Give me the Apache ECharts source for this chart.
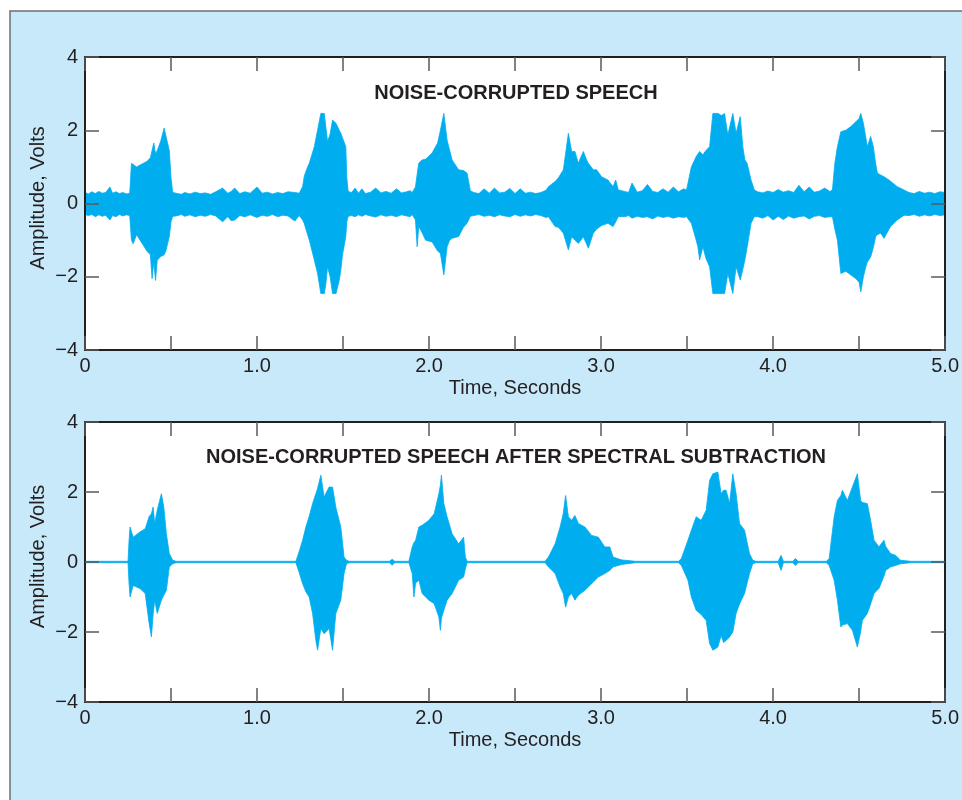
<!DOCTYPE html>
<html>
<head>
<meta charset="utf-8">
<title>Noise-corrupted speech</title>
<script src="https://cdn.jsdelivr.net/npm/echarts@6/dist/echarts.min.js"></script>
<style>
  html, body { margin: 0; padding: 0; background: #fff; }
  #chart { width: 962px; height: 800px; }
</style>
</head>
<body>
<div id="chart"></div>
<script>
// envelope of the waveform (seconds / volts)
const topT = [
  0.00, 0.02, 0.04, 0.06, 0.08, 0.10, 0.12, 0.145, 0.16, 0.18, 0.20, 0.22, 0.24, 0.26,
  0.27, 0.28, 0.30, 0.32, 0.34, 0.36, 0.38, 0.39, 0.40, 0.41, 0.42, 0.44, 0.46, 0.47, 0.49, 0.50, 0.51,
  0.53, 0.56, 0.58, 0.61, 0.64, 0.67, 0.70, 0.73, 0.76, 0.80, 0.83, 0.85, 0.87, 0.90, 0.93, 0.96,
  1.00, 1.03, 1.06, 1.09, 1.12, 1.15, 1.18, 1.22, 1.245,
  1.255, 1.265, 1.275, 1.294, 1.304, 1.333, 1.352, 1.371, 1.391, 1.40, 1.41, 1.425, 1.439, 1.459,
  1.478, 1.487, 1.497, 1.516, 1.522, 1.53,
  1.55, 1.57, 1.59, 1.61, 1.63, 1.66, 1.69, 1.72, 1.75, 1.78, 1.81, 1.84, 1.87, 1.89,
  1.902, 1.921, 1.931, 1.940, 1.96, 1.98, 2.018, 2.05, 2.066, 2.086, 2.105, 2.12, 2.134, 2.172,
  2.20, 2.221, 2.240,
  2.26, 2.29, 2.32, 2.35, 2.38, 2.41, 2.44, 2.47, 2.50, 2.53, 2.56, 2.59, 2.62, 2.65, 2.68,
  2.694, 2.733, 2.752, 2.781, 2.81, 2.829, 2.848, 2.868, 2.897, 2.915, 2.926, 2.955, 2.974, 3.003,
  3.04, 3.07, 3.085, 3.10, 3.137,
  3.16, 3.18, 3.21, 3.24, 3.27, 3.30, 3.33, 3.36, 3.39, 3.42, 3.45, 3.48,
  3.497, 3.525, 3.553, 3.563, 3.573, 3.592, 3.61, 3.631, 3.650, 3.68, 3.70, 3.718, 3.737, 3.766,
  3.785, 3.809, 3.824, 3.836, 3.849, 3.872, 3.891,
  3.91, 3.94, 3.97, 4.00, 4.03, 4.06, 4.09, 4.12, 4.15, 4.18, 4.21, 4.24, 4.27, 4.30, 4.33,
  4.345, 4.359, 4.374, 4.394, 4.423, 4.452, 4.481, 4.50, 4.51, 4.525, 4.539, 4.548, 4.567, 4.583,
  4.596, 4.606, 4.625, 4.645, 4.654, 4.674, 4.683, 4.722, 4.761,
  4.79, 4.82, 4.85, 4.88, 4.91, 4.94, 4.97, 5.00
];
const topHi = [
  0.30, 0.26, 0.32, 0.27, 0.33, 0.28, 0.30, 0.45, 0.28, 0.32, 0.27, 0.30, 0.26, 0.28,
  1.10, 1.05, 1.00, 1.05, 1.10, 1.15, 1.25, 1.30, 1.65, 1.35, 1.45, 1.70, 2.06, 1.85, 1.45, 0.70, 0.30,
  0.28, 0.25, 0.30, 0.26, 0.31, 0.27, 0.29, 0.25, 0.32, 0.42, 0.28, 0.33, 0.42, 0.27, 0.32, 0.28,
  0.45, 0.28, 0.31, 0.26, 0.30, 0.27, 0.32, 0.30, 0.28,
  0.30, 0.46, 0.75, 1.00, 1.10, 1.55, 2.00, 2.46, 2.46, 2.46, 1.69, 1.90, 2.28, 2.19,
  2.00, 1.92, 1.92, 1.55, 0.70, 0.33,
  0.30, 0.42, 0.28, 0.40, 0.27, 0.31, 0.42, 0.29, 0.33, 0.28, 0.40, 0.29, 0.32, 0.35,
  0.30, 0.45, 0.80, 1.10, 1.19, 1.21, 1.38, 1.65, 2.00, 2.46, 1.73, 1.45, 1.19, 0.92,
  0.90, 0.83, 0.35,
  0.30, 0.27, 0.40, 0.28, 0.42, 0.29, 0.31, 0.41, 0.27, 0.40, 0.28, 0.31, 0.27, 0.30, 0.36,
  0.46, 0.60, 0.70, 0.92, 1.92, 1.42, 1.42, 1.10, 1.42, 1.20, 1.10, 0.92, 0.92, 0.73,
  0.64, 0.46, 0.64, 0.37, 0.33,
  0.30, 0.56, 0.31, 0.35, 0.52, 0.33, 0.30, 0.40, 0.31, 0.45, 0.32, 0.40,
  0.37, 1.00, 1.28, 1.35, 1.42, 1.33, 1.45, 1.55, 2.46, 2.46, 2.40, 2.46, 1.87, 2.46,
  1.92, 2.37, 1.55, 1.19, 1.10, 0.64, 0.37,
  0.32, 0.29, 0.34, 0.30, 0.38, 0.31, 0.35, 0.30, 0.50, 0.32, 0.45, 0.31, 0.34, 0.42, 0.33,
  0.37, 1.10, 1.55, 1.96, 2.00, 2.10, 2.23, 2.32, 2.46, 2.19, 1.80, 1.55, 1.83, 1.55,
  1.10, 0.83, 0.78, 0.73, 0.70, 0.64, 0.60, 0.46, 0.37,
  0.30, 0.27, 0.33, 0.28, 0.31, 0.27, 0.32, 0.30
];
const topLo = [
  -0.30, -0.33, -0.30, -0.36, -0.31, -0.35, -0.32, -0.45, -0.33, -0.36, -0.30, -0.34, -0.31, -0.33,
  -1.00, -1.10, -0.85, -1.00, -1.15, -1.30, -1.40, -2.05, -1.60, -2.10, -1.55, -1.45, -1.40, -1.30, -0.90, -0.50, -0.35,
  -0.34, -0.30, -0.35, -0.31, -0.36, -0.32, -0.35, -0.30, -0.34, -0.50, -0.36, -0.47, -0.45, -0.33, -0.36, -0.31,
  -0.38, -0.32, -0.35, -0.30, -0.36, -0.32, -0.34, -0.48, -0.33,
  -0.35, -0.45, -0.55, -0.85, -1.00, -1.54, -1.91, -2.46, -2.46, -2.20, -1.73, -2.00, -2.46, -2.46,
  -2.10, -1.82, -1.40, -0.90, -0.50, -0.35,
  -0.33, -0.36, -0.31, -0.35, -0.30, -0.34, -0.37, -0.31, -0.35, -0.32, -0.36, -0.31, -0.34, -0.36,
  -0.30, -0.45, -1.18, -0.63, -0.80, -1.00, -1.05, -1.30, -1.36, -1.95, -1.18, -1.00, -0.95, -0.90,
  -0.65, -0.54, -0.35,
  -0.33, -0.30, -0.35, -0.32, -0.36, -0.31, -0.34, -0.36, -0.30, -0.35, -0.31, -0.34, -0.30, -0.33, -0.38,
  -0.36, -0.63, -0.65, -0.81, -1.27, -0.91, -1.00, -1.09, -0.91, -1.10, -1.22, -0.81, -0.70, -0.60,
  -0.54, -0.63, -0.50, -0.36, -0.36,
  -0.33, -0.40, -0.35, -0.38, -0.36, -0.42, -0.34, -0.38, -0.35, -0.40, -0.36, -0.38,
  -0.36, -0.54, -1.00, -1.18, -1.54, -1.18, -1.50, -1.73, -2.46, -2.46, -2.46, -2.46, -1.91, -2.46,
  -1.73, -2.09, -1.80, -1.54, -1.20, -0.54, -0.36,
  -0.36, -0.40, -0.33, -0.45, -0.35, -0.44, -0.34, -0.40, -0.36, -0.34, -0.42, -0.35, -0.33, -0.38, -0.36,
  -0.36, -0.70, -1.00, -1.91, -1.85, -1.95, -2.05, -2.15, -2.41, -2.00, -1.73, -1.60, -1.46, -1.20,
  -0.91, -0.85, -0.81, -0.95, -1.00, -0.70, -0.63, -0.45, -0.32,
  -0.33, -0.30, -0.35, -0.31, -0.34, -0.30, -0.33, -0.31
];

const botT = [
  0.00, 0.25,
  0.256, 0.262, 0.28, 0.32, 0.35, 0.373, 0.386, 0.396, 0.405, 0.42, 0.444, 0.458, 0.473, 0.49, 0.51, 0.53,
  1.226, 1.245, 1.265, 1.284, 1.303, 1.323, 1.342, 1.352, 1.371, 1.39, 1.419, 1.439, 1.458, 1.487,
  1.506, 1.52, 1.536,
  1.77, 1.786, 1.80,
  1.883, 1.902, 1.912, 1.922, 1.941, 1.96, 1.999, 2.03, 2.057, 2.066, 2.072, 2.086, 2.105, 2.134,
  2.172, 2.201, 2.211, 2.221,
  2.49, 2.50, 2.51,
  2.675, 2.694, 2.733, 2.762, 2.78, 2.794, 2.81, 2.829, 2.848, 2.868, 2.906, 2.945, 2.984, 3.022,
  3.051, 3.07, 3.12, 3.2,
  3.45, 3.467, 3.505, 3.525, 3.553, 3.582, 3.611, 3.631, 3.65, 3.679, 3.698, 3.712, 3.727, 3.747,
  3.766, 3.785, 3.805, 3.834, 3.863, 3.882, 3.90,
  4.03, 4.046, 4.06, 4.115, 4.13, 4.145,
  4.31, 4.326, 4.355, 4.374, 4.394, 4.403, 4.432, 4.461, 4.49, 4.509, 4.519, 4.548, 4.567, 4.587,
  4.616, 4.625, 4.645, 4.654, 4.683, 4.712, 4.741, 4.80, 5.00
];
const botHi = [
  0.02, 0.02,
  0.60, 1.00, 0.71, 0.86, 0.95, 1.30, 1.38, 1.57, 1.10, 1.48, 1.95, 1.57, 0.81, 0.24, 0.05, 0.02,
  0.02, 0.30, 0.62, 1.00, 1.30, 1.67, 1.95, 2.10, 2.48, 1.86, 2.14, 2.14, 1.57, 1.00,
  0.14, 0.05, 0.02,
  0.02, 0.08, 0.02,
  0.02, 0.43, 0.55, 0.62, 1.00, 1.05, 1.19, 1.38, 1.95, 2.20, 2.48, 1.67, 1.29, 0.81,
  0.52, 0.71, 0.14, 0.02,
  0.02, 0.05, 0.02,
  0.02, 0.14, 0.52, 1.00, 1.38, 1.90, 1.29, 1.19, 1.33, 1.10, 1.00, 0.76, 0.71, 0.43,
  0.43, 0.14, 0.06, 0.02,
  0.02, 0.10, 0.62, 0.91, 1.29, 1.19, 1.48, 2.33, 2.52, 2.57, 1.95, 2.05, 2.05, 1.67,
  2.52, 1.95, 1.10, 0.91, 0.24, 0.05, 0.02,
  0.02, 0.19, 0.02, 0.02, 0.10, 0.02,
  0.02, 0.10, 1.29, 1.76, 1.90, 2.05, 1.76, 2.14, 2.52, 1.76, 1.70, 1.67, 1.19, 0.62,
  0.43, 0.50, 0.62, 0.45, 0.24, 0.19, 0.05, 0.02, 0.02
];
const botLo = [
  -0.02, -0.02,
  -0.60, -1.00, -0.67, -0.76, -0.90, -1.76, -2.14, -1.50, -1.09, -1.47, -1.09, -0.95, -0.81, -0.14, -0.05, -0.02,
  -0.02, -0.30, -0.62, -0.85, -1.00, -1.47, -2.24, -2.52, -1.90, -2.05, -1.90, -2.52, -1.47, -1.09,
  -0.33, -0.05, -0.02,
  -0.02, -0.09, -0.02,
  -0.02, -0.33, -1.00, -0.60, -0.52, -0.90, -1.09, -1.19, -1.57, -1.95, -1.60, -1.38, -1.09, -0.90,
  -0.52, -0.43, -0.20, -0.02,
  -0.02, -0.06, -0.02,
  -0.02, -0.14, -0.33, -0.71, -0.90, -1.29, -1.00, -0.90, -1.09, -0.95, -0.81, -0.62, -0.43, -0.33,
  -0.24, -0.14, -0.07, -0.02,
  -0.02, -0.10, -0.52, -1.00, -1.38, -1.50, -1.67, -2.33, -2.52, -2.43, -2.10, -2.30, -2.24, -2.14,
  -2.00, -1.47, -1.20, -0.90, -0.33, -0.05, -0.02,
  -0.02, -0.24, -0.02, -0.02, -0.10, -0.02,
  -0.02, -0.10, -0.52, -1.09, -1.86, -1.80, -1.76, -1.95, -2.43, -2.00, -1.67, -1.47, -1.20, -0.90,
  -0.75, -0.71, -0.40, -0.24, -0.14, -0.10, -0.05, -0.02, -0.02
];

const xLabels = ["0", "1.0", "2.0", "3.0", "4.0", "5.0"];
const yLabels = { "-4": "\u22124", "-2": "\u22122", "0": "0", "2": "2", "4": "4" };
const titles = ["NOISE-CORRUPTED SPEECH", "NOISE-CORRUPTED SPEECH AFTER SPECTRAL SUBTRACTION"];

const wave = "#00aeef";
const ink = "#231f20";
const tickCol = "#58595b";
const font = "'Liberation Sans', Arial, Helvetica, sans-serif";

const grids = [
  { left: 85, top: 57, width: 863, height: 293 },
  { left: 85, top: 422, width: 863, height: 280 }
];

function pairs(t, v) {
  return t.map((x, i) => [x, v[i]]);
}

function xAxes(g) {
  const common = {
    gridIndex: g, type: "value", min: 0, max: 5, interval: 0.5, z: 5,
    axisLine: { show: true, onZero: false, lineStyle: { color: ink, width: 2 } },
    axisTick: { inside: true, length: 14, lineStyle: { color: tickCol, width: 1.5 } },
    splitLine: { show: false }
  };
  return [
    Object.assign({}, common, {
      position: "bottom",
      axisLabel: {
        margin: 6, fontSize: 20, color: ink, fontFamily: font,
        showMinLabel: true, showMaxLabel: true,
        formatter: v => (Number.isInteger(v) ? xLabels[v] : "")
      },
      name: "Time, Seconds", nameLocation: "middle", nameGap: 28, nameMoveOverlap: false,
      nameTextStyle: { fontSize: 20, color: ink, fontFamily: font }
    }),
    Object.assign({}, common, { position: "top", axisLabel: { show: false } })
  ];
}

function yAxes(g) {
  const common = {
    gridIndex: g, type: "value", min: -4, max: 4, interval: 2, z: 5,
    axisLine: { show: true, onZero: false, lineStyle: { color: ink, width: 2 } },
    axisTick: { inside: true, length: 14, lineStyle: { color: tickCol, width: 1.5 } },
    splitLine: { show: false }
  };
  return [
    Object.assign({}, common, {
      position: "left",
      axisLabel: {
        margin: 7, fontSize: 20, color: ink, fontFamily: font,
        showMinLabel: true, showMaxLabel: true,
        formatter: v => yLabels[String(v)]
      },
      name: "Amplitude, Volts", nameLocation: "middle", nameGap: 37, nameMoveOverlap: false,
      nameTextStyle: { fontSize: 20, color: ink, fontFamily: font, padding: [0, 0, 0, 11] }
    }),
    Object.assign({}, common, { position: "right", axisLabel: { show: false } })
  ];
}

// upper edge: cyan filled up from the bottom of the plot;
// lower edge: white filled up from the bottom, which leaves the band between them cyan
function edge(idx, data, fill) {
  return {
    type: "line", xAxisIndex: idx * 2, yAxisIndex: idx * 2, data: data,
    showSymbol: false, symbol: "none", silent: true, animation: false,
    lineStyle: { color: wave, width: 0.8 },
    areaStyle: { color: fill, opacity: 1, origin: "start" }
  };
}

const chart = echarts.init(document.getElementById("chart"));
chart.setOption({
  animation: false,
  backgroundColor: "#fff",
  graphic: {
    elements: [{
      type: "rect", z: -10,
      shape: { x: 10, y: 11, width: 980, height: 820 },
      style: { fill: "#c8e9f9", stroke: "#6d6e71", lineWidth: 1.5 }
    }]
  },
  title: [
    { text: titles[0], left: 516, top: 83, textAlign: "center", padding: 0,
      textStyle: { fontSize: 20, fontWeight: "bold", color: ink, fontFamily: font } },
    { text: titles[1], left: 516, top: 447, textAlign: "center", padding: 0,
      textStyle: { fontSize: 20, fontWeight: "bold", color: ink, fontFamily: font } }
  ],
  grid: grids.map(g => Object.assign({ show: true, backgroundColor: "#fff", borderWidth: 0 }, g)),
  xAxis: xAxes(0).concat(xAxes(1)),
  yAxis: yAxes(0).concat(yAxes(1)),
  series: [
    edge(0, pairs(topT, topHi), wave),
    edge(0, pairs(topT, topLo), "#fff"),
    edge(1, pairs(botT, botHi), wave),
    edge(1, pairs(botT, botLo), "#fff")
  ]
});
</script>
</body>
</html>
